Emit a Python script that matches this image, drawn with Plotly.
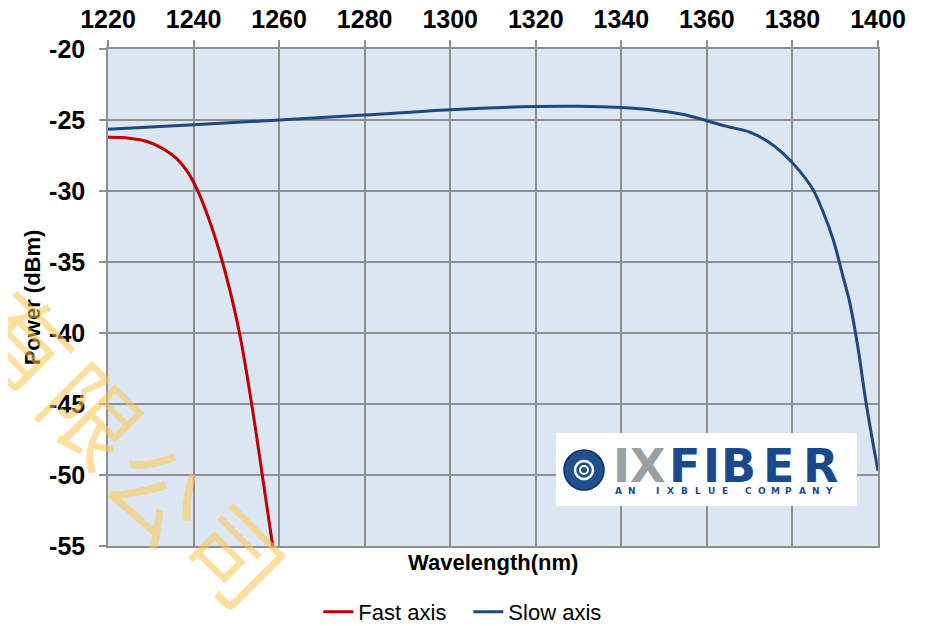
import plotly.graph_objects as go

# ---------------- data ----------------
fast_wl = [1220, 1225, 1229, 1233, 1236, 1238.5, 1241, 1243.5, 1246, 1248.5, 1251, 1254, 1256.5, 1258.5]
fast_pw = [-26.22, -26.28, -26.5, -27.05, -27.7, -28.6, -30.0, -31.9, -34.2, -37.0, -40.4, -45.8, -50.9, -55.0]

slow_wl = [1220, 1240, 1260, 1280, 1300, 1320, 1330, 1340, 1346.4, 1354.2, 1360, 1364.6, 1370,
           1373.9, 1377.8, 1381.7, 1384.8, 1387.2, 1389.5, 1391.8, 1393.5, 1395.3, 1397, 1398.5, 1400]
slow_pw = [-25.65, -25.33, -25.0, -24.65, -24.28, -24.05, -24.03, -24.12, -24.26, -24.6, -25.05, -25.45, -25.85,
           -26.45, -27.35, -28.6, -29.9, -31.5, -33.4, -36.0, -38.0, -41.0, -44.5, -47.2, -49.7]

x_ticks = [1220, 1240, 1260, 1280, 1300, 1320, 1340, 1360, 1380, 1400]
y_ticks = [-20, -25, -30, -35, -40, -45, -50, -55]

series_names = ["Fast axis", "Slow axis"]
x_title = "Wavelength(nm)"
y_title = "Power (dBm)"
watermark_chars = ["有", "限", "公", "司"]
logo_letters = ["I", "X", "F", "I", "B", "E", "R"]
logo_sub_words = ["AN", "IXBLUE", "COMPANY"]

# ---------------- layout helpers ----------------
# page body has an 8px margin; figure reaches to the window's right/bottom edges
OFF = 8
W, H = 929 - OFF, 626 - OFF
L, R, T, B = 108, 878, 49, 546          # plot area in screen pixels
def px(x):
    return (x - L) / (R - L)
def py(y):
    return (B - y) / (B - T)

GRID = "#8f8f8f"
FONT = "Liberation Sans"

fig = go.Figure()
fig.add_trace(go.Scatter(x=fast_wl, y=fast_pw, name=series_names[0], mode="lines",
                         line=dict(color="#c00000", width=3, shape="spline", smoothing=1.0)))
fig.add_trace(go.Scatter(x=slow_wl, y=slow_pw, name=series_names[1], mode="lines",
                         line=dict(color="#1f497d", width=3, shape="spline", smoothing=1.0)))

axis_common = dict(showgrid=True, gridcolor=GRID, gridwidth=1.5, showline=True, linecolor=GRID,
                   linewidth=1.5, mirror=True, ticks="outside", ticklen=7, tickcolor=GRID, tickwidth=1.5,
                   zeroline=False, automargin=False,
                   tickfont=dict(family=FONT, size=25, color="black", weight="bold"))

fig.update_xaxes(range=[1220, 1400], tickvals=x_ticks, ticktext=[str(v) for v in x_ticks],
                 side="top", ticklabelstandoff=2, **axis_common)
fig.update_yaxes(range=[-55, -20], tickvals=y_ticks, ticktext=[str(v) for v in y_ticks],
                 ticklabelstandoff=9,
                 title=dict(text=y_title, font=dict(family=FONT, size=22, color="black", weight="bold"),
                            standoff=2),
                 **axis_common)

annotations = []
# x-axis title at bottom
annotations.append(dict(text=x_title, xref="paper", yref="paper", x=0.5, y=py(562),
                        xanchor="center", yanchor="middle", showarrow=False,
                        font=dict(family=FONT, size=22, color="black", weight="bold")))

shapes = []
# logo box
shapes.append(dict(type="rect", xref="paper", yref="paper", x0=px(556), x1=px(857), y0=py(506), y1=py(433),
                   fillcolor="white", line=dict(width=0), layer="above"))
# logo circle
cx, cy = px(584), py(470)
for r, fill, lc, lw in [(20, "#22508f", "#102e60", 1.5), (9, "rgba(0,0,0,0)", "white", 2.5),
                        (4, "rgba(0,0,0,0)", "white", 2)]:
    shapes.append(dict(type="circle", xref="paper", yref="paper", xsizemode="pixel", ysizemode="pixel",
                       xanchor=cx, yanchor=cy, x0=-r, x1=r, y0=-r, y1=r,
                       fillcolor=fill, line=dict(color=lc, width=lw), layer="above"))

letter_x = [621, 647, 684, 711, 738, 778, 820]
for ch, xx, i in zip(logo_letters, letter_x, range(7)):
    annotations.append(dict(text=ch, xref="paper", yref="paper", x=px(xx), y=py(466),
                            xanchor="center", yanchor="middle", showarrow=False,
                            font=dict(family="DejaVu Sans", size=46, weight="bold",
                                      color="#9a9fa4" if i < 2 else "#1b4a8c")))
word_start = [618, 657, 748]
step = 13.5
for word, xs in zip(logo_sub_words, word_start):
    for k, ch in enumerate(word):
        annotations.append(dict(text=ch, xref="paper", yref="paper", x=px(xs + k * step), y=py(491),
                                xanchor="center", yanchor="middle", showarrow=False,
                                font=dict(family="DejaVu Sans", size=9, weight="bold", color="#1b4a8c")))

# watermark
wm_pos = [(28, 338), (95, 412), (160, 490), (238, 553)]
for ch, (xx, yy) in zip(watermark_chars, wm_pos):
    annotations.append(dict(text=ch, xref="paper", yref="paper", x=px(xx), y=py(yy),
                            xanchor="center", yanchor="middle", showarrow=False, textangle=45,
                            font=dict(family="Noto Sans CJK SC", size=94, color="rgba(255,196,80,0.55)")))

fig.update_layout(
    width=W, height=H,
    margin=dict(l=L - OFF, r=W + OFF - R, t=T - OFF, b=H + OFF - B, autoexpand=False),
    paper_bgcolor="white", plot_bgcolor="#dce6f2",
    showlegend=True,
    legend=dict(orientation="h", x=0.468, xanchor="center", y=py(612), yanchor="middle",
                font=dict(family=FONT, size=22, color="black"), bgcolor="rgba(0,0,0,0)",
                itemwidth=30, tracegroupgap=0, entrywidth=105),
    annotations=annotations, shapes=shapes,
)

fig.write_html("out.html")
